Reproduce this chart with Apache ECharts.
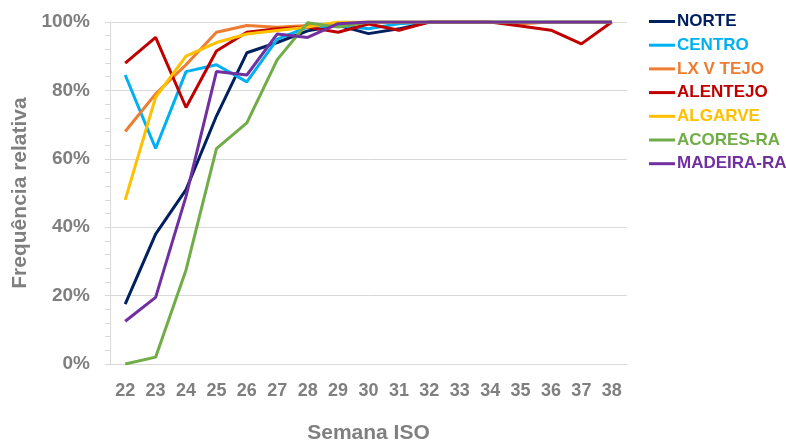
<!DOCTYPE html>
<html>
<head>
<meta charset="utf-8">
<script src="https://cdn.jsdelivr.net/npm/echarts@6/dist/echarts.min.js"></script>
<style>
  html, body { margin: 0; padding: 0; background: #fff; }
  #chart { width: 786px; height: 443px; }
</style>
</head>
<body>
<div id="chart"></div>
<script>
// semanas ISO
var semanas = ['22','23','24','25','26','27','28','29','30','31','32','33','34','35','36','37','38'];

// frequência relativa (%) por região
var norte    = [17.5, 38, 51, 72.5, 91, 94, 97.4, 99, 96.6, 98, 100, 100, 100, 100, 100, 100, 100];
var centro   = [84.5, 63, 85.5, 87.5, 82.5, 95, 98.5, 99, 98, 99.5, 100, 100, 100, 100, 100, 100, 100];
var lxVTejo  = [68, 79, 87.5, 97, 99, 98.5, 99, 99.5, 100, 100, 100, 100, 100, 99.5, 100, 100, 100];
var alentejo = [88, 95.5, 75, 91.5, 97, 98, 98.5, 97, 99.4, 97.6, 100, 100, 100, 98.8, 97.6, 93.6, 100];
var algarve  = [48, 78, 90, 94, 96.5, 97.5, 98.5, 100, 100, 100, 100, 100, 100, 100, 100, 100, 100];
var acores   = [0, 2, 27.5, 63, 70.5, 89, 99.8, 98.5, 100, 100, 100, 100, 100, 100, 100, 100, 100];
var madeira  = [12.5, 19.5, 49, 85.5, 84.5, 96.5, 95.5, 99.5, 100, 100, 100, 100, 100, 100, 100, 100, 100];

var nomes = ['NORTE', 'CENTRO', 'LX V TEJO', 'ALENTEJO', 'ALGARVE', 'ACORES-RA', 'MADEIRA-RA'];
var cores = ['#002060', '#00B0F0', '#ED7D31', '#C00000', '#FFC000', '#70AD47', '#7030A0'];
var dados = [norte, centro, lxVTejo, alentejo, algarve, acores, madeira];

var cinza = '#7F7F7F';
var fonte = '"Liberation Sans", Arial, sans-serif';

var series = [];
for (var i = 0; i < nomes.length; i++) {
  series.push({
    name: nomes[i],
    type: 'line',
    data: dados[i],
    showSymbol: false,
    symbol: 'none',
    color: cores[i],
    lineStyle: { width: 3, color: cores[i] }
  });
}

var option = {
  animation: false,
  backgroundColor: '#fff',
  textStyle: { fontFamily: fonte },
  grid: { left: 110, right: 159, top: 22, bottom: 79, outerBoundsMode: 'none' },
  legend: {
    orient: 'vertical',
    left: 649,
    top: 13,
    padding: 0,
    itemWidth: 26,
    itemHeight: 3,
    itemGap: 6.7,
    icon: 'rect',
    data: nomes.map(function (n, i) {
      return { name: n, textStyle: { color: cores[i] } };
    }),
    textStyle: { fontFamily: fonte, fontWeight: 'bold', fontSize: 17, lineHeight: 17, padding: [0, 0, 0, -3] }
  },
  xAxis: {
    type: 'category',
    data: semanas,
    boundaryGap: true,
    name: 'Semana ISO',
    nameLocation: 'middle',
    nameGap: 59,
    nameTextStyle: { color: cinza, fontSize: 21, fontWeight: 'bold', fontFamily: fonte },
    axisLine: { lineStyle: { color: '#D9D9D9', width: 1 } },
    axisTick: { show: false },
    axisLabel: { color: cinza, fontSize: 18, fontWeight: 'bold', margin: 18, interval: 0, fontFamily: fonte }
  },
  yAxis: {
    type: 'value',
    min: 0,
    max: 100,
    interval: 20,
    name: 'Frequência relativa',
    nameLocation: 'middle',
    nameGap: 74,
    nameTextStyle: { color: cinza, fontSize: 21, fontWeight: 'bold', fontFamily: fonte },
    axisLine: { show: true, lineStyle: { color: '#D9D9D9', width: 1 } },
    axisTick: { show: true, length: 5, lineStyle: { color: '#D9D9D9' } },
    minorTick: { show: true, splitNumber: 5, length: 5, lineStyle: { color: '#D9D9D9' } },
    axisLabel: { color: cinza, fontSize: 19, fontWeight: 'bold', margin: 20, fontFamily: fonte,
      formatter: function (v) { return v + '%'; } },
    splitLine: { lineStyle: { color: '#D9D9D9', width: 1 } }
  },
  series: series
};

var chart = echarts.init(document.getElementById('chart'));
chart.setOption(option);
</script>
</body>
</html>
